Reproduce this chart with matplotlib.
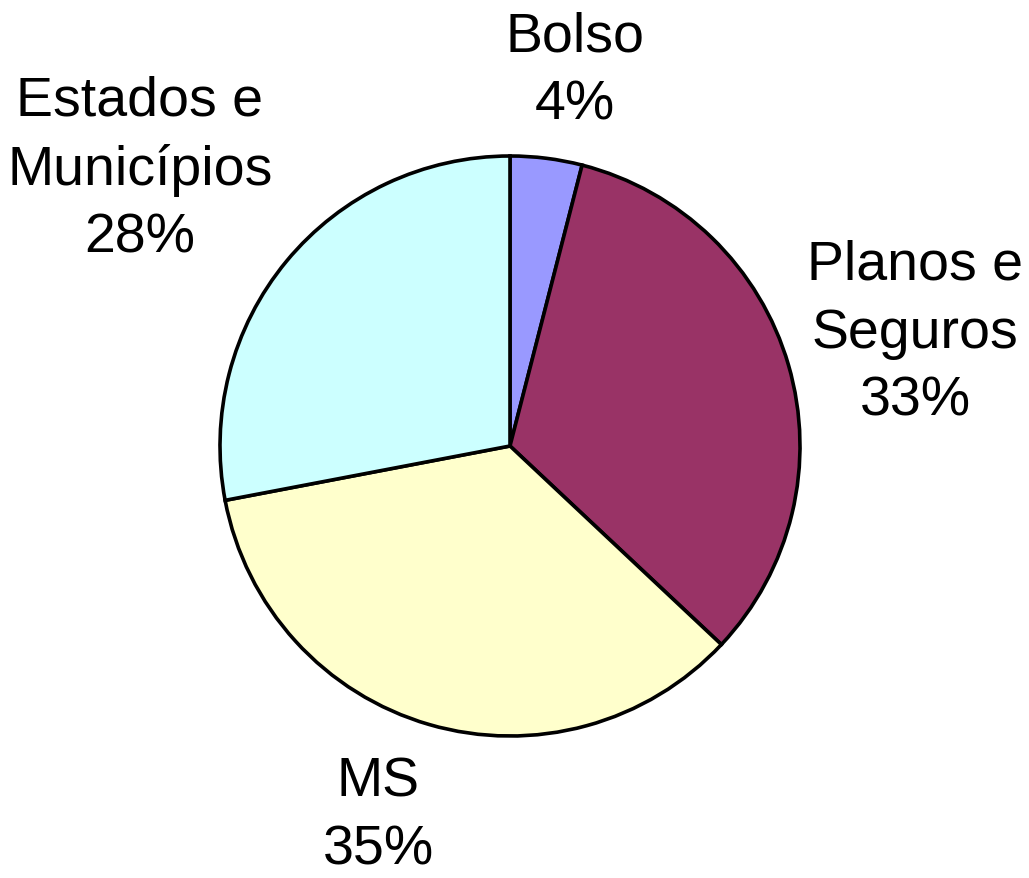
import matplotlib.pyplot as plt

# slice data, clockwise from 12 o'clock
labels = ["Bolso", "Planos e\nSeguros", "MS", "Estados e\nMunicípios"]
shares = [4, 33, 35, 28]
colors = ["#9999FF", "#993366", "#FFFFCC", "#CCFFFF"]

# where each label block sits (pie units, radius = 1)
label_xy = [(0.224, 1.295), (1.397, 0.39), (-0.455, -1.275), (-1.276, 0.955)]


def main():
    fig = plt.figure(figsize=(10.29, 8.79), dpi=100)
    ax = fig.add_axes([0, 0, 1, 1])

    ax.pie(shares, colors=colors, startangle=90, counterclock=False,
           radius=1.0, wedgeprops=dict(edgecolor="black", linewidth=2.6))

    for name, pct, (x, y) in zip(labels, shares, label_xy):
        ax.text(x, y, f"{name}\n{pct}%", ha="center", va="center",
                fontsize=40, family="Liberation Sans", linespacing=1.4)

    # 1 unit = 290 px, pie centre at pixel (510, 447)
    ax.set_xlim(-510 / 290, (1029 - 510) / 290)
    ax.set_ylim(-(879 - 447) / 290, 447 / 290)
    ax.set_aspect("equal")
    ax.axis("off")

    fig.savefig("out.png", dpi=100)


if __name__ == "__main__":
    main()
